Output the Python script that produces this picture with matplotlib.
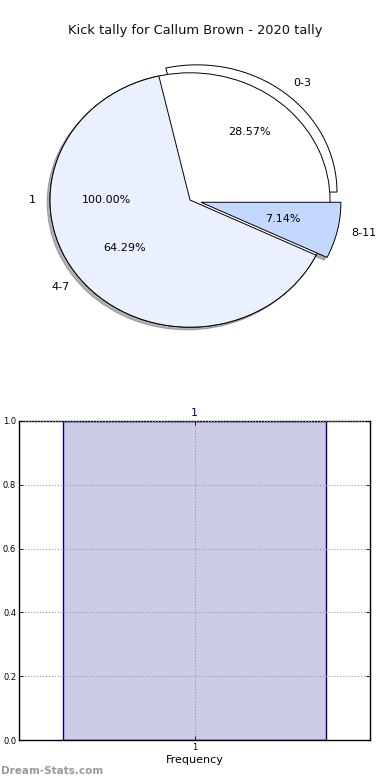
import numpy as np
import matplotlib
matplotlib.use("Agg")
import matplotlib.pyplot as plt
import matplotlib.patches as mpatches

# data
title = "Kick tally for Callum Brown - 2020 tally"
pie_labels = ["0-3", "4-7", "8-11"]
pie_values = [4, 9, 1]
pie_colors = ["#FFFFFF", "#EAF0FE", "#C4D8FF"]
pie_explode = [0.08, 0, 0.08]
all_labels = ["1"]
all_values = [1]
bar_labels = ["1"]
bar_values = [1]

fig = plt.figure(figsize=(3.9, 7.8), dpi=100)
fig.text(0.5, 0.961, title, ha="center", va="center", fontsize=9.4, color="#111111")

# pie (not aspect equal, like the old plots)
ax = fig.add_axes([15/390, 1 - 359/780, 350/390, 318/780])
shadow_kw = {"ox": -0.015, "oy": -0.015, "shade": 0.6}
wedges, texts, autotexts = ax.pie(pie_values, labels=pie_labels, colors=pie_colors,
                                  explode=pie_explode, autopct="%1.2f%%", shadow=shadow_kw,
                                  wedgeprops=dict(edgecolor="black", linewidth=0.7),
                                  textprops=dict(fontsize=8))
w2, t2, a2 = ax.pie(all_values, labels=all_labels, colors=["#FFFFFF"], autopct="%1.2f%%",
                    shadow=shadow_kw, wedgeprops=dict(edgecolor="black", linewidth=0.7),
                    textprops=dict(fontsize=8))
# keep only the outer circle shadow and the small 8-11 one
for p in ax.patches:
    if isinstance(p, mpatches.Shadow):
        p.set_zorder(0.5)
        if p.patch is wedges[0] or p.patch is wedges[1]:
            p.set_visible(False)
wedges[0].set_zorder(1)
w2[0].set_zorder(2)
wedges[1].set_zorder(3)
wedges[2].set_zorder(3)
for t in texts + autotexts + t2 + a2:
    t.set_zorder(5)
ax.set_aspect("auto")
ax.set_xlim(-1.25, 1.25)
ax.set_ylim(-1.25, 1.25)

# bar chart
bx = fig.add_axes([19/390, 1 - 740/780, 351/390, 319/780])
xpos = np.arange(1, len(bar_values) + 1)
bars = bx.bar(xpos, bar_values, width=0.75, color="#CCCCE6", edgecolor="#000080", linewidth=1.0)
bx.set_xlim(0.5, 1.5)
bx.set_ylim(0, 1.0)
bx.set_xticks(xpos)
bx.set_xticklabels(bar_labels, fontsize=6)
bx.set_yticks(np.arange(0, 1.01, 0.2))
bx.set_yticklabels(["%.1f" % v for v in np.arange(0, 1.01, 0.2)], fontsize=6)
bx.tick_params(length=3, width=0.6, direction="in", pad=2, top=True, right=True)
bx.grid(True, linestyle=":", color="#999999", linewidth=0.8)
bx.set_axisbelow(False)
for b, v in zip(bars, bar_values):
    bx.text(b.get_x() + b.get_width()/2, v + 0.01, str(v), ha="center", va="bottom",
            fontsize=8, color="#000080")
bx.set_xlabel("Frequency", fontsize=8, labelpad=2)
for s in bx.spines.values():
    s.set_linewidth(1.0)

fig.text(0.003, 0.012, "Dream-Stats.com", fontsize=7.5, color="#999999",
         fontweight="bold", ha="left", va="center")

fig.savefig("out.png", dpi=100)
